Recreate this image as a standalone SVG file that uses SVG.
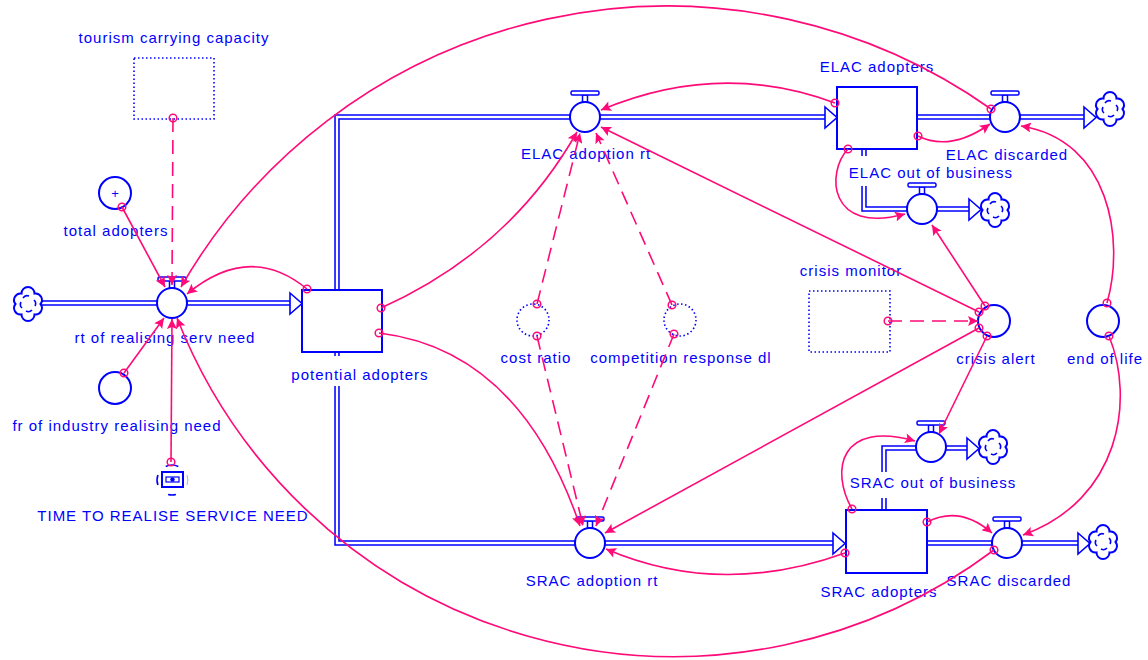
<svg xmlns="http://www.w3.org/2000/svg" width="1148" height="660" viewBox="0 0 1148 660">
<defs>
<style>
.lbl{font-family:"Liberation Sans",Arial,sans-serif;font-size:15px;fill:#0000ff;text-anchor:middle;letter-spacing:1px}
.pipe{fill:none;stroke:#0000ff;stroke-width:5.5;stroke-linejoin:miter}
.pipein{fill:none;stroke:#ffffff;stroke-width:2.4;stroke-linejoin:miter}
.farrow{fill:#ffffff;stroke:#0000ff;stroke-width:1.6;stroke-linejoin:miter}
.aux{fill:#ffffff;stroke:#0000ff;stroke-width:2}
.stock{fill:#ffffff;stroke:#0000ff;stroke-width:2}
.dotted{fill:#ffffff;stroke:#0000ff;stroke-width:1.6;stroke-dasharray:1.5 2.5}
.lk{fill:none;stroke:#ff0a78;stroke-width:1.6;marker-start:url(#o);marker-end:url(#ah)}
.dash{stroke-dasharray:14 8}
.bg{fill:#ffffff}
.ic{fill:none;stroke:#0000ff;stroke-width:1.6}
</style>
<marker id="ah" viewBox="0 0 10 10" refX="10" refY="5" markerWidth="12" markerHeight="10" markerUnits="userSpaceOnUse" orient="auto"><path d="M0,0 L10,5 L0,10 L2,5 z" fill="#ff0a78"/></marker>
<marker id="o" viewBox="-5 -5 10 10" refX="0" refY="0" markerWidth="10" markerHeight="10" markerUnits="userSpaceOnUse"><circle r="3.8" fill="none" stroke="#ff0a78" stroke-width="1.5"/></marker>
<g id="valve">
<rect x="-2.5" y="-22" width="5" height="7" fill="#ffffff" stroke="#0000ff" stroke-width="1.5"/>
<rect x="-14" y="-26" width="28" height="4" rx="1.5" fill="#ffffff" stroke="#0000ff" stroke-width="1.5"/>
<circle r="15" fill="#ffffff" stroke="#0000ff" stroke-width="2"/>
</g>
<g id="cloud">
<path d="M-6.5,-10.5 A6.5,6.5 0 0 1 6.5,-10.5 A6.5,6.5 0 0 1 12.5,0 A6.5,6.5 0 0 1 6.5,10.5 A6.5,6.5 0 0 1 -6.5,10.5 A6.5,6.5 0 0 1 -12.5,0 A6.5,6.5 0 0 1 -6.5,-10.5 Z" fill="#ffffff" stroke="#0000ff" stroke-width="2"/>
<path d="M-5,-6 a5,5 0 0 1 6,-2 M6,-4 a5,5 0 0 1 1,6 M4,6 a5,5 0 0 1 -6,1 M-6,4 a5,5 0 0 1 -1,-6" fill="none" stroke="#0000ff" stroke-width="1.6"/>
</g>
</defs>
<rect width="1148" height="660" fill="#ffffff"/>

<g id="flows">
<path class="pipe" d="M40,303 H290"/><path class="pipein" d="M40,303 H290"/>
<polygon class="farrow" points="290,293 302,303.5 290,314"/>
<path class="pipe" d="M337,290 V117 H825"/><path class="pipein" d="M337,290 V117 H825"/>
<polygon class="farrow" points="825,107 837,117.5 825,128"/>
<path class="pipe" d="M337,352 V543 H833"/><path class="pipein" d="M337,352 V543 H833"/>
<polygon class="farrow" points="833,533 845,543.5 833,554"/>
<path class="pipe" d="M918,117 H1084"/><path class="pipein" d="M918,117 H1084"/>
<polygon class="farrow" points="1084,107 1096,117.5 1084,128"/>
<path class="pipe" d="M864,149 V209 H969"/><path class="pipein" d="M864,149 V209 H969"/>
<polygon class="farrow" points="969,199 981,209.5 969,220"/>
<path class="pipe" d="M884,510 V448 H967"/><path class="pipein" d="M884,510 V448 H967"/>
<polygon class="farrow" points="967,438 979,448.5 967,459"/>
<path class="pipe" d="M927,543 H1078"/><path class="pipein" d="M927,543 H1078"/>
<polygon class="farrow" points="1078,533 1090,543.5 1078,554"/>
</g>

<g id="cloud_source"><use href="#cloud" x="28" y="304"/></g>
<g id="cloud_elac_discarded"><use href="#cloud" x="1110" y="109"/></g>
<g id="cloud_elac_out"><use href="#cloud" x="995" y="210"/></g>
<g id="cloud_srac_out"><use href="#cloud" x="993" y="447"/></g>
<g id="cloud_srac_discarded"><use href="#cloud" x="1103" y="542"/></g>

<g id="tourism_carrying_capacity"><rect class="dotted" x="134" y="58" width="80" height="61"/><text class="lbl" x="174" y="43">tourism carrying capacity</text></g>
<g id="total_adopters"><circle class="aux" cx="115" cy="193" r="16"/><text x="115" y="198" style="font-family:'Liberation Sans',Arial,sans-serif;font-size:13px;fill:#0000ff;text-anchor:middle">+</text><text class="lbl" x="116" y="236">total adopters</text></g>
<g id="rt_of_realising_serv_need"><use href="#valve" x="172" y="303"/><text class="lbl" x="165" y="343">rt of realising serv need</text></g>
<g id="fr_of_industry_realising_need"><circle class="aux" cx="115" cy="388" r="16"/><text class="lbl" x="117" y="431">fr of industry realising need</text></g>
<g id="time_to_realise_service_need">
<path class="ic" d="M157.9,474.9 A15,15 0 0 0 157.9,485.1 M165.7,466.4 A15,15 0 0 1 178.3,466.4 M175.9,494.5 A15,15 0 0 1 168.1,494.5"/>
<path d="M187,475 A15,15 0 0 1 187,485" fill="none" stroke="#0000ff" stroke-width="1" opacity="0.35"/>
<rect x="162" y="472" width="21" height="15" fill="#ffffff" stroke="#0000ff" stroke-width="2"/>
<rect x="166" y="477" width="13" height="5" fill="none" stroke="#0000ff" stroke-width="1.2"/>
<circle cx="172.5" cy="479.5" r="2.2" fill="#0000ff"/>
<text class="lbl" x="173" y="521">TIME TO REALISE SERVICE NEED</text></g>
<g id="potential_adopters"><rect class="stock" x="302" y="290" width="80" height="62"/><rect class="bg" x="331" y="356" width="12" height="30"/><text class="lbl" x="360" y="380">potential adopters</text></g>
<g id="elac_adoption_rt"><use href="#valve" x="585" y="117"/><text class="lbl" x="586" y="159">ELAC adoption rt</text></g>
<g id="elac_adopters"><rect class="stock" x="837" y="87" width="80" height="62"/><text class="lbl" x="877" y="72">ELAC adopters</text></g>
<g id="elac_discarded"><use href="#valve" x="1005" y="117"/><text class="lbl" x="1007" y="160">ELAC discarded</text></g>
<g id="elac_out_of_business"><rect class="bg" x="858" y="156" width="12" height="30"/><use href="#valve" x="922" y="209"/><text class="lbl" x="931" y="178">ELAC out of business</text></g>
<g id="cost_ratio"><circle class="dotted" cx="533" cy="320" r="16"/><text class="lbl" x="536" y="363">cost ratio</text></g>
<g id="competition_response_dl"><circle class="dotted" cx="680" cy="320" r="16"/><text class="lbl" x="681" y="363">competition response dl</text></g>
<g id="crisis_monitor"><rect class="dotted" x="809" y="291" width="81" height="61"/><text class="lbl" x="851" y="276">crisis monitor</text></g>
<g id="crisis_alert"><circle class="aux" cx="994" cy="321" r="16"/><text class="lbl" x="996" y="364">crisis alert</text></g>
<g id="end_of_life"><circle class="aux" cx="1103" cy="321" r="16"/><text class="lbl" x="1105" y="364">end of life</text></g>
<g id="srac_out_of_business"><rect class="bg" x="878" y="472" width="12" height="26"/><use href="#valve" x="931" y="447"/><text class="lbl" x="933" y="488">SRAC out of business</text></g>
<g id="srac_adopters"><rect class="stock" x="846" y="510" width="81" height="63"/><text class="lbl" x="879" y="597">SRAC adopters</text></g>
<g id="srac_discarded"><use href="#valve" x="1007" y="543"/><text class="lbl" x="1009" y="586">SRAC discarded</text></g>
<g id="srac_adoption_rt"><use href="#valve" x="590" y="543"/><text class="lbl" x="592" y="586">SRAC adoption rt</text></g>

<g id="connectors">
<path class="lk dash" d="M173,118 L172,285"/>
<path class="lk" d="M122,207 L165,287"/>
<path class="lk" d="M124,373 L164,318"/>
<path class="lk" d="M171,462 L172,319"/>
<path class="lk" d="M994,550 A534,534 0 0 1 177,318"/>
<path class="lk" d="M991,109 A561,561 0 0 0 181,287"/>
<path class="lk" d="M307,289 Q250,242 187,294"/>
<path class="lk" d="M381,308 Q510,250 577,132"/>
<path class="lk" d="M379,333 Q520,350 580,526"/>
<path class="lk" d="M835,103 Q720,60 601,110"/>
<path class="lk" d="M979,312 L601,127"/>
<path class="lk dash" d="M537,304 L580,133"/>
<path class="lk dash" d="M672,305 L596,133"/>
<path class="lk dash" d="M537,336 L583,526"/>
<path class="lk dash" d="M674,334 L596,526"/>
<path class="lk" d="M979,328 L605,533"/>
<path class="lk" d="M845,553 Q720,598 606,549"/>
<path class="lk dash" d="M888,321 L978,321"/>
<path class="lk" d="M985,306 L932,225"/>
<path class="lk" d="M987,336 L939,434"/>
<path class="lk" d="M848,149 C826,172 828,235 905,214"/>
<path class="lk" d="M918,136 Q950,152 990,124"/>
<path class="lk" d="M1107,303 C1125,240 1110,140 1021,126"/>
<path class="lk" d="M1109,336 C1135,400 1120,500 1023,535"/>
<path class="lk" d="M852,509 C830,470 840,420 915,441"/>
<path class="lk" d="M927,522 Q960,505 992,533"/>
</g>
</svg>
